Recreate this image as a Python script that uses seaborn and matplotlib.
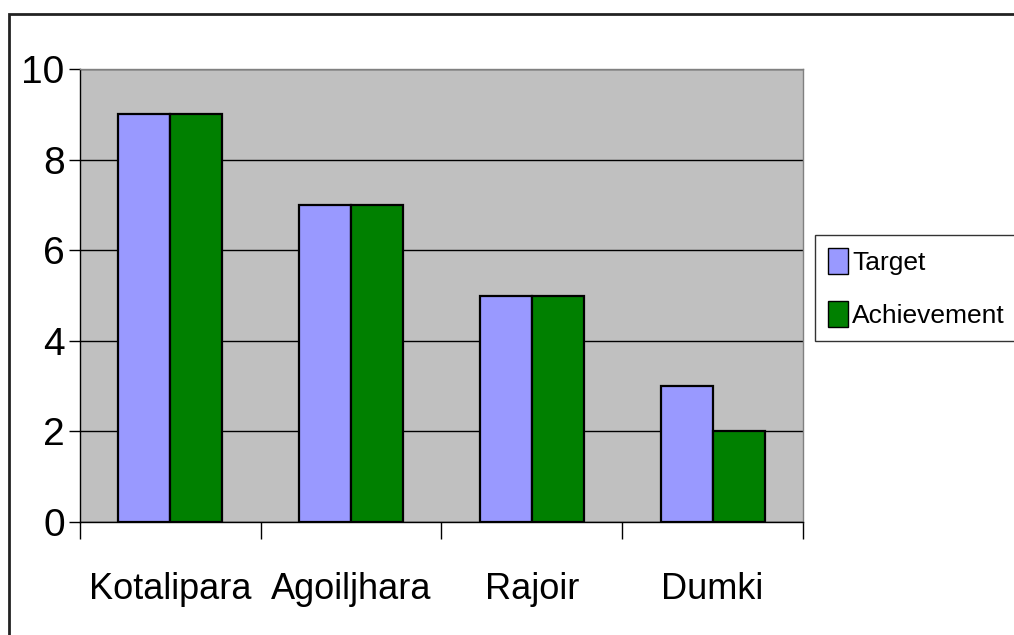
import matplotlib
matplotlib.use("Agg")
import matplotlib.pyplot as plt
import matplotlib.patches as mpatches
import seaborn as sns
import pandas as pd

# data
blocks = ["Kotalipara", "Agoiljhara", "Rajoir", "Dumki"]
target = [9, 7, 5, 3]
achievement = [9, 7, 5, 2]

df = pd.DataFrame({
    "block": blocks * 2,
    "value": target + achievement,
    "series": ["Target"] * len(blocks) + ["Achievement"] * len(blocks),
})

sns.set_theme(style="white")
plt.rcParams["font.family"] = ["Liberation Sans Narrow", "Liberation Sans", "DejaVu Sans"]
plt.rcParams["text.color"] = "black"

fig = plt.figure(figsize=(10.14, 6.35), dpi=100)
ax = fig.add_axes([80 / 1014, 113 / 635, 723 / 1014, 453 / 635])

sns.barplot(data=df, x="block", y="value", hue="series",
            palette={"Target": "#9999FF", "Achievement": "#008000"},
            saturation=1, width=0.575, edgecolor="black", linewidth=1.6,
            legend=False, ax=ax)

ax.set_facecolor("#C0C0C0")
ax.set_xlim(-0.5, 3.5)
ax.set_ylim(0, 10)
ax.set_yticks([0, 2, 4, 6, 8, 10])
ax.yaxis.grid(True, color="black", linewidth=1)
ax.set_axisbelow(True)
ax.set_xlabel("")
ax.set_ylabel("")

# category boundary ticks
ax.set_xticks([-0.5, 0.5, 1.5, 2.5, 3.5], minor=True)
ax.tick_params(axis="x", which="minor", length=12, width=1, color="black",
               direction="out", bottom=True)
ax.tick_params(axis="x", which="major", length=0, pad=36, labelsize=26,
               labelcolor="black")
ax.tick_params(axis="y", length=8, width=1, color="black", direction="out",
               left=True, pad=3, labelsize=28, labelcolor="black")

for s in ["top", "right"]:
    ax.spines[s].set_color("#808080")
    ax.spines[s].set_linewidth(1)
for s in ["left", "bottom"]:
    ax.spines[s].set_color("black")
    ax.spines[s].set_linewidth(1)

# legend
handles = [mpatches.Patch(facecolor="#9999FF", edgecolor="black", label="Target"),
           mpatches.Patch(facecolor="#008000", edgecolor="black", label="Achievement")]
leg = fig.legend(handles=handles, loc="upper left",
                 bbox_to_anchor=(815 / 1014, 1 - 235 / 635),
                 fontsize=19, frameon=True, fancybox=False,
                 handlelength=0.75, handleheight=1.1, handletextpad=0.15,
                 borderpad=0.5, labelspacing=1.0, borderaxespad=0)
leg.get_frame().set_edgecolor("black")
leg.get_frame().set_linewidth(1)

# outer chart border
fig.patches.append(mpatches.Rectangle((9 / 1014, -0.1), 1.2, 1.1 - 14 / 635,
                                      transform=fig.transFigure, fill=False,
                                      edgecolor="#222222", linewidth=2))

fig.savefig("out.png", dpi=100)
